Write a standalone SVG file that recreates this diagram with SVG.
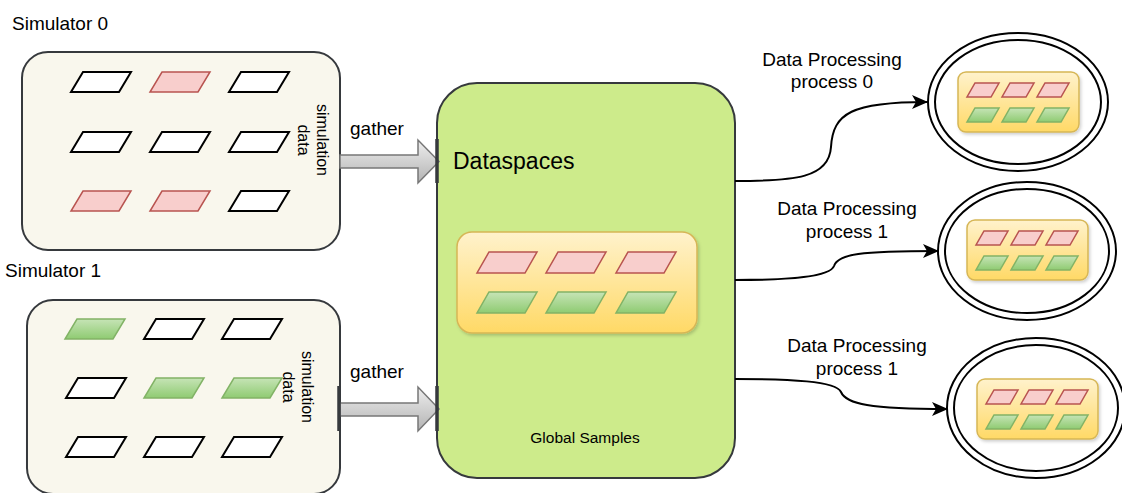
<svg xmlns="http://www.w3.org/2000/svg" width="1122" height="493" viewBox="0 0 1122 493">
  <style>
    text { font-family: "Liberation Sans", Arial, Helvetica, sans-serif; fill: #000; }
    .lbl { font-size: 19px; }
    .vlbl { font-size: 16px; text-anchor: middle; }
    .mid { text-anchor: middle; }
    .sim { fill: #f9f7ed; stroke: #36393d; stroke-width: 2; }
    .ds { fill: #cdeb8b; stroke: #36393d; stroke-width: 2; }
    .pw { fill: #ffffff; stroke: #000000; stroke-width: 2; stroke-linejoin: miter; }
    .pr { fill: #f8cecc; stroke: #b85450; stroke-width: 1.5; }
    .pg { fill: url(#gGreen); stroke: #82b366; stroke-width: 1.5; }
    .tray { fill: url(#gYellow); stroke: #d6b656; stroke-width: 1.5; }
    .ring { fill: none; stroke: #000; stroke-width: 2; }
    .flex { fill: url(#gGray); stroke: #777777; stroke-width: 1.5; stroke-linejoin: miter; }
    .port { stroke: #36393d; stroke-width: 3.5; }
    .edge { fill: none; stroke: #000; stroke-width: 2; marker-end: url(#arrow); }
  </style>
  <defs>
    <linearGradient id="gGreen" x1="0" y1="0" x2="0" y2="1">
      <stop offset="0" stop-color="#c6e4b6"/>
      <stop offset="1" stop-color="#8fcb72"/>
    </linearGradient>
    <linearGradient id="gYellow" x1="0" y1="0" x2="0" y2="1">
      <stop offset="0" stop-color="#fff2cc"/>
      <stop offset="1" stop-color="#ffd966"/>
    </linearGradient>
    <linearGradient id="gGray" x1="0" y1="0" x2="0" y2="1">
      <stop offset="0" stop-color="#eeeeee"/>
      <stop offset="1" stop-color="#b3b3b3"/>
    </linearGradient>
    <filter id="soft" x="-10%" y="-10%" width="130%" height="140%">
      <feDropShadow dx="1.5" dy="2" stdDeviation="1.5" flood-color="#000" flood-opacity="0.18"/>
    </filter>
    <marker id="arrow" markerUnits="userSpaceOnUse" viewBox="0 0 16 14" markerWidth="16" markerHeight="14" refX="15" refY="7" orient="auto">
      <path d="M0,0 L16,7 L0,14 L4,7 Z" fill="#000"/>
    </marker>
    <!-- large parallelogram cell (sim boxes): 60 wide incl. 12 skew, 20 tall -->
    <path id="cellL" d="M12,0 H60 L48,20 H0 Z"/>
    <!-- dataspace cell -->
    <path id="cellM" d="M12,0 H60 L48,21 H0 Z"/>
    <!-- small cell inside process trays -->
    <path id="cellS" d="M8,0 H32 L24,14 H0 Z"/>
    <!-- tray of six cells used by processes -->
    <g id="tray">
      <rect class="tray" x="0" y="0" width="121" height="60" rx="8" filter="url(#soft)"/>
      <use href="#cellS" class="pr" x="9" y="11"/>
      <use href="#cellS" class="pr" x="44" y="11"/>
      <use href="#cellS" class="pr" x="79" y="11"/>
      <use href="#cellS" class="pg" x="9" y="36"/>
      <use href="#cellS" class="pg" x="44" y="36"/>
      <use href="#cellS" class="pg" x="79" y="36"/>
    </g>
  </defs>

  <rect width="1122" height="493" fill="#ffffff"/>

  <!-- Simulator 0 -->
  <g id="simulator0">
    <text class="lbl" x="12" y="30">Simulator 0</text>
    <rect class="sim" x="22" y="52" width="318" height="198" rx="26"/>
    <use href="#cellL" class="pw" x="71" y="72"/>
    <use href="#cellL" class="pr" x="150" y="72"/>
    <use href="#cellL" class="pw" x="229" y="72"/>
    <use href="#cellL" class="pw" x="71" y="132"/>
    <use href="#cellL" class="pw" x="150" y="132"/>
    <use href="#cellL" class="pw" x="229" y="132"/>
    <use href="#cellL" class="pr" x="71" y="191"/>
    <use href="#cellL" class="pr" x="150" y="191"/>
    <use href="#cellL" class="pw" x="229" y="191"/>
    <g transform="translate(317,140) rotate(90)">
      <text class="vlbl" x="0" y="0">simulation</text>
      <text class="vlbl" x="0" y="19">data</text>
    </g>
  </g>

  <!-- Simulator 1 -->
  <g id="simulator1">
    <text class="lbl" x="5" y="277">Simulator 1</text>
    <rect class="sim" x="27" y="300" width="313" height="194" rx="26"/>
    <use href="#cellL" class="pg" x="65" y="319"/>
    <use href="#cellL" class="pw" x="144" y="319"/>
    <use href="#cellL" class="pw" x="222" y="319"/>
    <use href="#cellL" class="pw" x="66" y="378"/>
    <use href="#cellL" class="pg" x="144" y="378"/>
    <use href="#cellL" class="pg" x="222" y="378"/>
    <use href="#cellL" class="pw" x="66" y="437"/>
    <use href="#cellL" class="pw" x="144" y="437"/>
    <use href="#cellL" class="pw" x="222" y="437"/>
    <g transform="translate(302,387) rotate(90)">
      <text class="vlbl" x="0" y="0">simulation</text>
      <text class="vlbl" x="0" y="19">data</text>
    </g>
  </g>

  <!-- Dataspaces -->
  <g id="dataspaces">
    <rect class="ds" x="437" y="83" width="298" height="395" rx="40"/>
    <text x="453" y="169" font-size="23">Dataspaces</text>
    <rect class="tray" x="457" y="232" width="240" height="101" rx="15" filter="url(#soft)"/>
    <use href="#cellM" class="pr" x="477" y="252"/>
    <use href="#cellM" class="pr" x="546" y="252"/>
    <use href="#cellM" class="pr" x="616" y="252"/>
    <use href="#cellM" class="pg" x="477" y="292"/>
    <use href="#cellM" class="pg" x="546" y="292"/>
    <use href="#cellM" class="pg" x="616" y="292"/>
    <text class="mid" x="585" y="443" font-size="15.5">Global Samples</text>
  </g>

  <!-- Data processing processes -->
  <g id="process0">
    <ellipse class="ring" cx="1018" cy="102" rx="90" ry="69"/>
    <ellipse class="ring" cx="1018" cy="102" rx="83" ry="62"/>
    <use href="#tray" x="958" y="72"/>
  </g>
  <g id="process1a">
    <ellipse class="ring" cx="1027" cy="251" rx="89" ry="69"/>
    <ellipse class="ring" cx="1027" cy="251" rx="82" ry="62"/>
    <use href="#tray" x="967" y="220"/>
  </g>
  <g id="process1b">
    <ellipse class="ring" cx="1036" cy="408" rx="89" ry="70"/>
    <ellipse class="ring" cx="1036" cy="408" rx="82" ry="63"/>
    <use href="#tray" x="977" y="379"/>
  </g>

  <!-- Connectors -->
  <g id="connectors">
    <!-- gather arrows -->
    <path class="flex" d="M340,155 H418 V140 L439,161.5 L418,183 V168 H340 Z"/>
    <line class="port" x1="437" y1="139" x2="437" y2="183"/>
    <text class="lbl" x="350" y="135">gather</text>

    <path class="flex" d="M340,403 H418 V387 L439,409 L418,431 V416 H340 Z"/>
    <line class="port" x1="339" y1="386" x2="339" y2="431"/>
    <line class="port" x1="437" y1="386" x2="437" y2="431"/>
    <text class="lbl" x="350" y="378">gather</text>

    <!-- distribution to processes -->
    <path class="edge" d="M735,181 C795,181 829,178 831,147 C833,113 852,102 927,102"/>
    <text class="lbl mid" x="832" y="66">Data Processing</text>
    <text class="lbl mid" x="832" y="88">process 0</text>

    <path class="edge" d="M735,280 C790,280 830,277 834,266 C838,254 860,251 938,251"/>
    <text class="lbl mid" x="847" y="215">Data Processing</text>
    <text class="lbl mid" x="847" y="238">process 1</text>

    <path class="edge" d="M735,379 C790,379 836,381 841,392 C846,404 870,409 947,409"/>
    <text class="lbl mid" x="857" y="352">Data Processing</text>
    <text class="lbl mid" x="857" y="375">process 1</text>
  </g>
</svg>
